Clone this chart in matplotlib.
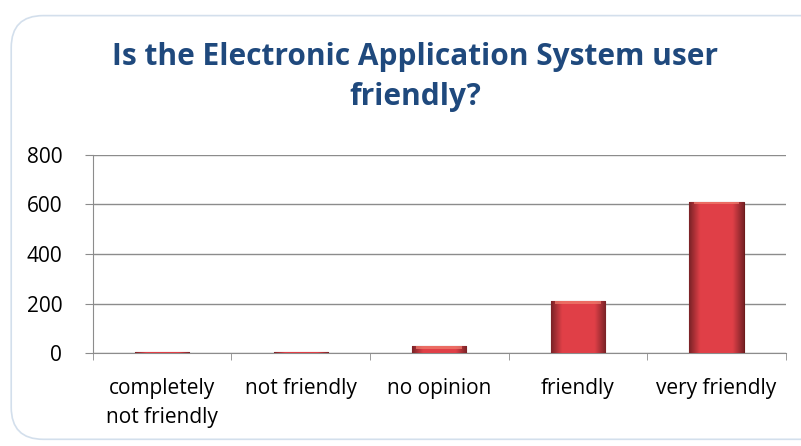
import matplotlib.pyplot as plt
import numpy as np
from matplotlib.patches import FancyBboxPatch

categories = ["completely\nnot friendly", "not friendly", "no opinion", "friendly", "very friendly"]
counts = [3, 4, 28, 210, 612]

plt.rcParams['font.family'] = ['Open Sans', 'DejaVu Sans']

fig = plt.figure(figsize=(8.01, 4.46), dpi=100)

# rounded outer frame
frame = FancyBboxPatch((0.014, 0.015), 1.2, 0.95, boxstyle="round,pad=0,rounding_size=0.04",
                       transform=fig.transFigure, facecolor='white', edgecolor='#d3dfec',
                       linewidth=1.2, mutation_aspect=801 / 446, zorder=-10)
fig.patches.append(frame)

ax = fig.add_axes([0.116, 0.2085, 0.865, 0.444])
ax.set_facecolor('none')
ax.set_zorder(5)

x = np.arange(len(categories))
width = 0.39
bars = ax.bar(x, counts, width=width, color='#dc3c44', edgecolor='#6e1a1a', linewidth=0.8, zorder=3)

# horizontal shading inside each bar: flat red centre, darker sides
grad = np.linspace(0, 1, 64)
shade = 1 - 0.45 * np.clip(np.abs(grad - 0.5) * 2 - 0.6, 0, None) / 0.4
base = np.array([0.88, 0.25, 0.28])
img = np.clip(base[None, :] * shade[:, None], 0, 1)[None, :, :]
for b in bars:
    bx, bw, bh = b.get_x(), b.get_width(), b.get_height()
    im = ax.imshow(img, extent=[bx, bx + bw, 0, bh], aspect='auto', zorder=3.5,
                   interpolation='bicubic')
    im.set_clip_path(b)
    if bh > 20:
        ax.bar(bx + bw / 2, 12, bottom=bh - 12, width=bw * 0.85, color='#f08070',
               linewidth=0, zorder=4, alpha=0.7)

ax.set_xlim(-0.5, len(categories) - 0.5)
ax.set_ylim(0, 800)
ax.set_yticks([0, 200, 400, 600, 800])
ax.yaxis.grid(True, color='#8c8c8c', linewidth=1.0, zorder=0)
ax.set_axisbelow(True)

ax.set_xticks(x)
ax.set_xticklabels(categories, fontsize=15, color='black', linespacing=1.5)
ax.set_xticks(np.arange(-0.5, len(categories)), minor=True)
ax.tick_params(axis='x', which='major', length=0, pad=18)
ax.tick_params(axis='x', which='minor', length=5, color='#8c8c8c', direction='out')
ax.tick_params(axis='y', length=6, color='#8c8c8c', labelsize=15, pad=16)

for s in ['top', 'right']:
    ax.spines[s].set_visible(False)
ax.spines['left'].set_color('#8c8c8c')
ax.spines['bottom'].set_color('#8c8c8c')

fig.text(0.518, 0.828, "Is the Electronic Application System user\nfriendly?", ha='center', va='center',
         fontsize=21.5, fontweight='bold', color='#1f497d', linespacing=1.45)

fig.savefig('out.png', dpi=100)
